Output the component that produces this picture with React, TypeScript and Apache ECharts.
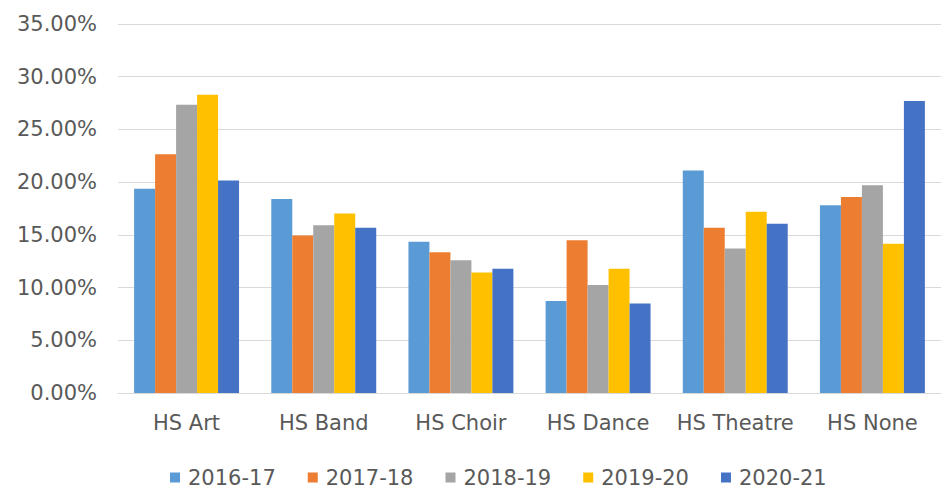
import React, { useEffect, useRef } from "react";
import * as echarts from "echarts";

const categories = ["HS Art", "HS Band", "HS Choir", "HS Dance", "HS Theatre", "HS None"];
const seriesNames = ["2016-17", "2017-18", "2018-19", "2019-20", "2020-21"];
const s2016 = [0.1937, 0.1839, 0.1434, 0.0872, 0.211, 0.178];
const s2017 = [0.2265, 0.1495, 0.1336, 0.145, 0.1567, 0.1858];
const s2018 = [0.2733, 0.159, 0.1258, 0.1024, 0.137, 0.197];
const s2019 = [0.283, 0.1703, 0.1144, 0.1178, 0.172, 0.1415];
const s2020 = [0.2016, 0.1567, 0.1178, 0.085, 0.1605, 0.277];
const colors = ["#5B9BD5", "#ED7D31", "#A5A5A5", "#FFC000", "#4472C4"];

const FONT = "DejaVu Sans";
const TEXT = "#595959";

export default function App() {
  const ref = useRef<HTMLDivElement>(null);
  useEffect(() => {
    if (!ref.current) return;
    const chart = echarts.init(ref.current, null, { renderer: "svg" });
    const data = [s2016, s2017, s2018, s2019, s2020];
    chart.setOption({
      animation: false,
      backgroundColor: "#ffffff",
      color: colors,
      textStyle: { fontFamily: FONT },
      grid: { left: 118, top: 24, width: 832, bottom: 95, containLabel: false },
      legend: {
        left: 165,
        top: 462,
        itemWidth: 10,
        itemHeight: 10,
        itemGap: 32,
        icon: "rect",
        textStyle: { fontFamily: FONT, fontSize: 21, color: TEXT, padding: [0, 0, 0, 3] },
        data: seriesNames,
      },
      xAxis: {
        type: "category",
        data: categories,
        axisLine: { show: true, lineStyle: { color: "#D9D9D9", width: 1 } },
        axisTick: { show: false },
        axisLabel: { fontFamily: FONT, fontSize: 21, color: TEXT, margin: 19, interval: 0 },
      },
      yAxis: {
        type: "value",
        min: 0,
        max: 0.35,
        interval: 0.05,
        axisLine: { show: false },
        axisTick: { show: false },
        splitLine: { lineStyle: { color: "#D9D9D9", width: 1 } },
        axisLabel: {
          fontFamily: FONT,
          fontSize: 21,
          color: TEXT,
          margin: 21,
          formatter: (v: number) => (v * 100).toFixed(2) + "%",
        },
      },
      series: seriesNames.map((name, i) => ({
        name,
        type: "bar",
        data: data[i],
        barGap: "0%",
        barCategoryGap: "23.5%",
        itemStyle: { color: colors[i] },
      })),
    });
    return () => chart.dispose();
  }, []);
  return (
    <div
      ref={ref}
      style={{ position: "absolute", left: 0, top: 0, width: 941, height: 488, background: "#fff", overflow: "hidden" }}
    />
  );
}
